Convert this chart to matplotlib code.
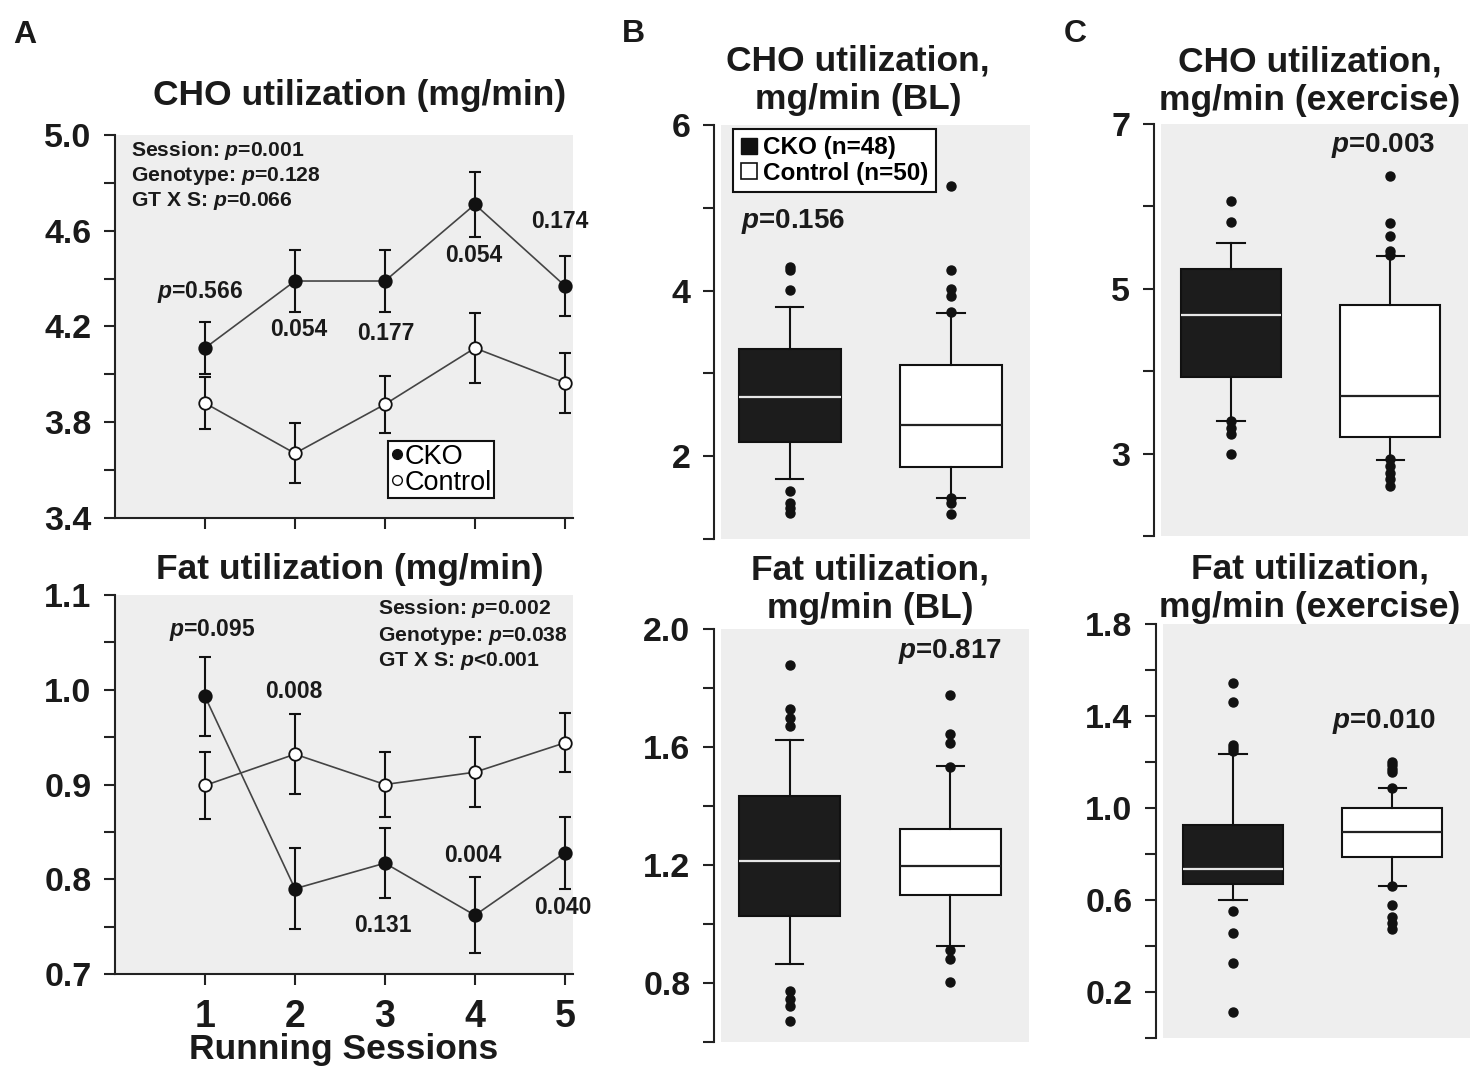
import matplotlib
matplotlib.use("Agg")
import matplotlib.pyplot as plt
from matplotlib.lines import Line2D
from matplotlib.ticker import FormatStrFormatter

plt.rcParams['font.family'] = ['Liberation Sans', 'DejaVu Sans']
plt.rcParams['font.weight'] = 'bold'
plt.rcParams['mathtext.fontset'] = 'custom'
plt.rcParams['mathtext.it'] = 'Liberation Sans:italic:bold'
plt.rcParams['mathtext.rm'] = 'Liberation Sans:bold'
plt.rcParams['mathtext.bf'] = 'Liberation Sans:bold'

# ---------------- data ----------------
sessions = [1, 2, 3, 4, 5]
cho_cko = [4.11, 4.39, 4.39, 4.71, 4.37]
cho_cko_err = [0.11, 0.13, 0.13, 0.135, 0.125]
cho_ctl = [3.88, 3.67, 3.875, 4.11, 3.965]
cho_ctl_err = [0.11, 0.125, 0.12, 0.145, 0.125]
cho_session_p = ["$p$=0.566", "0.054", "0.177", "0.054", "0.174"]
cho_stats = ["Session: $p$=0.001", "Genotype: $p$=0.128", "GT X S: $p$=0.066"]
cho_yticks = [3.4, 3.8, 4.2, 4.6, 5.0]
cho_yminor = [3.6, 4.0, 4.4, 4.8]

fat_cko = [0.993, 0.790, 0.817, 0.762, 0.828]
fat_cko_err = [0.042, 0.043, 0.037, 0.040, 0.038]
fat_ctl = [0.899, 0.932, 0.900, 0.913, 0.944]
fat_ctl_err = [0.035, 0.042, 0.034, 0.037, 0.031]
fat_session_p = ["$p$=0.095", "0.008", "0.131", "0.004", "0.040"]
fat_stats = ["Session: $p$=0.002", "Genotype: $p$=0.038", "GT X S: $p$<0.001"]
fat_yticks = [0.7, 0.8, 0.9, 1.0, 1.1]
fat_yminor = [0.75, 0.85, 0.95, 1.05]

groups = ["CKO (n=48)", "Control (n=50)"]

# box stats: q1, median, q3, whisker low, whisker high, outliers
cho_bl_cko = dict(q1=2.17, med=2.71, q3=3.29, whislo=1.72, whishi=3.80,
                  fliers=[4.29, 4.25, 4.01, 1.58, 1.43, 1.37, 1.32])
cho_bl_ctl = dict(q1=1.875, med=2.38, q3=3.105, whislo=1.50, whishi=3.73,
                  fliers=[5.26, 4.25, 4.02, 3.94, 3.74, 1.50, 1.44, 1.30])
cho_bl_p = "$p$=0.156"
cho_bl_yticks = [2, 4, 6]
cho_bl_yminor = [1, 3, 5]

fat_bl_cko = dict(q1=1.028, med=1.212, q3=1.435, whislo=0.866, whishi=1.623,
                  fliers=[1.877, 1.729, 1.698, 1.670, 0.772, 0.746, 0.721, 0.672])
fat_bl_ctl = dict(q1=1.10, med=1.198, q3=1.322, whislo=0.924, whishi=1.534,
                  fliers=[1.777, 1.644, 1.614, 1.532, 0.911, 0.881, 0.803])
fat_bl_p = "$p$=0.817"
fat_bl_yticks = [0.8, 1.2, 1.6, 2.0]
fat_bl_yminor = [0.6, 1.0, 1.4, 1.8]

cho_ex_cko = dict(q1=3.925, med=4.677, q3=5.238, whislo=3.392, whishi=5.554,
                  fliers=[6.067, 5.808, 3.39, 3.31, 3.24, 2.996])
cho_ex_ctl = dict(q1=3.198, med=3.703, q3=4.798, whislo=2.927, whishi=5.40,
                  fliers=[6.37, 5.798, 5.645, 5.46, 5.41, 2.93, 2.85, 2.77, 2.69, 2.61])
cho_ex_p = "$p$=0.003"
cho_ex_yticks = [3, 5, 7]
cho_ex_yminor = [2, 4, 6]

fat_ex_cko = dict(q1=0.670, med=0.735, q3=0.924, whislo=0.601, whishi=1.233,
                  fliers=[1.545, 1.459, 1.273, 1.262, 1.247, 0.553, 0.458, 0.325, 0.114])
fat_ex_ctl = dict(q1=0.786, med=0.895, q3=1.0, whislo=0.663, whishi=1.087,
                  fliers=[1.201, 1.185, 1.17, 1.157, 1.087, 0.663, 0.580, 0.524, 0.502, 0.476])
fat_ex_p = "$p$=0.010"
fat_ex_yticks = [0.2, 0.6, 1.0, 1.4, 1.8]
fat_ex_yminor = [0.0, 0.4, 0.8, 1.2, 1.6]

# ---------------- figure ----------------
W, H = 1479, 1075
fig = plt.figure(figsize=(W / 100, H / 100), dpi=100)
BG = '#eeeeee'
BOXDARK = '#1c1c1c'
TICKFS = 24.5


def px_axes(x0, y0, x1, y1):
    return fig.add_axes([x0 / W, 1 - y1 / H, (x1 - x0) / W, (y1 - y0) / H])


def ftext(x, y, s, **kw):
    kw.setdefault('ha', 'center')
    kw.setdefault('va', 'center')
    kw.setdefault('fontweight', 'bold')
    kw.setdefault('color', '#1a1a1a')
    return fig.text(x / W, 1 - y / H, s, **kw)


def style_left(ax, ticks, minor, fmt, offset=0):
    ax.set_facecolor(BG)
    for s in ['top', 'right', 'bottom']:
        ax.spines[s].set_visible(False)
    ax.spines['left'].set_linewidth(1.5)
    ax.spines['left'].set_color('#222222')
    if offset:
        ax.spines['left'].set_position(('outward', offset))
    ax.set_yticks(ticks)
    ax.set_yticks(minor, minor=True)
    ax.yaxis.set_major_formatter(FormatStrFormatter(fmt))
    ax.tick_params(axis='y', which='both', direction='out', length=8, width=1.5,
                   colors='#222222', pad=9)
    ax.tick_params(axis='y', which='major', labelsize=TICKFS)
    for lab in ax.get_yticklabels():
        lab.set_fontweight('bold')
        lab.set_color('#1a1a1a')


def line_panel(ax, cko, cko_err, ctl, ctl_err, ylim, ticks, minor):
    ax.errorbar(sessions, ctl, yerr=ctl_err, fmt='none', ecolor='#111111',
                elinewidth=1.5, capsize=4.5, capthick=1.5, zorder=2)
    ax.errorbar(sessions, cko, yerr=cko_err, fmt='none', ecolor='#111111',
                elinewidth=1.5, capsize=4.5, capthick=1.5, zorder=2)
    ax.plot(sessions, ctl, '-', color='#444444', lw=1.2, zorder=3)
    ax.plot(sessions, cko, '-', color='#444444', lw=1.2, zorder=3)
    ax.plot(sessions, ctl, 'o', ms=9, mfc='white', mec='#111111', mew=1.3, zorder=4)
    ax.plot(sessions, cko, 'o', ms=9, mfc='#111111', mec='#111111', mew=1.3, zorder=4)
    ax.set_xlim(0, 5.09)
    ax.set_ylim(*ylim)
    style_left(ax, ticks, minor, '%.1f')
    ax.spines['bottom'].set_visible(True)
    ax.spines['bottom'].set_linewidth(1.5)
    ax.spines['bottom'].set_color('#222222')
    ax.set_xticks(sessions)
    ax.tick_params(axis='x', direction='out', length=8, width=1.5, colors='#222222', pad=10)


# ---- Panel A top ----
axA1 = px_axes(115, 135, 573, 518)
line_panel(axA1, cho_cko, cho_cko_err, cho_ctl, cho_ctl_err, (3.4, 5.0), cho_yticks, cho_yminor)
axA1.set_xticklabels([])

# ---- Panel A bottom ----
axA2 = px_axes(115, 595, 573, 974)
line_panel(axA2, fat_cko, fat_cko_err, fat_ctl, fat_ctl_err, (0.7, 1.1), fat_yticks, fat_yminor)
axA2.set_xticklabels([str(s) for s in sessions], fontsize=27, fontweight='bold', color='#1a1a1a')
axA2.tick_params(axis='x', pad=10)


def box_panel(ax, cko, ctl, ylim, ticks, minor, fmt, xlim):
    stats = []
    for d, lab in zip([cko, ctl], groups):
        s = dict(d)
        s['label'] = lab
        stats.append(s)
    common = dict(widths=0.63, capwidths=0.17, showfliers=True, patch_artist=True,
                  whiskerprops=dict(color='#111111', linewidth=1.5),
                  capprops=dict(color='#111111', linewidth=1.5),
                  flierprops=dict(marker='o', markersize=6.5, markerfacecolor='#111111',
                                  markeredgecolor='#111111'))
    ax.bxp([stats[0]], positions=[1], **common,
           boxprops=dict(facecolor=BOXDARK, edgecolor='#111111', linewidth=1.5),
           medianprops=dict(color='#e6e6e6', linewidth=1.6))
    ax.bxp([stats[1]], positions=[2], **common,
           boxprops=dict(facecolor='white', edgecolor='#111111', linewidth=1.5),
           medianprops=dict(color='#222222', linewidth=1.6))
    ax.set_xlim(*xlim)
    ax.set_ylim(*ylim)
    ax.set_xticks([])
    style_left(ax, ticks, minor, fmt, offset=5)


xlimB = (0.574, 2.488)
xlimC = (0.56, 2.49)

axB1 = px_axes(721, 125, 1030, 539)
box_panel(axB1, cho_bl_cko, cho_bl_ctl, (1, 6), cho_bl_yticks, cho_bl_yminor, '%d', xlimB)

axB2 = px_axes(721, 629, 1029, 1042)
box_panel(axB2, fat_bl_cko, fat_bl_ctl, (0.6, 2.0), fat_bl_yticks, fat_bl_yminor, '%.1f', xlimB)

axC1 = px_axes(1161, 124, 1468, 536)
box_panel(axC1, cho_ex_cko, cho_ex_ctl, (2, 7), cho_ex_yticks, cho_ex_yminor, '%d', xlimC)

axC2 = px_axes(1163, 624, 1470, 1038)
box_panel(axC2, fat_ex_cko, fat_ex_ctl, (0.0, 1.8), fat_ex_yticks, fat_ex_yminor, '%.1f', xlimC)

# ---------------- texts ----------------
ftext(25, 35, "A", fontsize=23)
ftext(633, 34, "B", fontsize=23)
ftext(1075, 34, "C", fontsize=23)

TFS = 25.5
ftext(360, 95, "CHO utilization (mg/min)", fontsize=TFS)
ftext(350, 569, "Fat utilization (mg/min)", fontsize=TFS)
ftext(858, 80, "CHO utilization,\nmg/min (BL)", fontsize=TFS, linespacing=1.2)
ftext(870, 589, "Fat utilization,\nmg/min (BL)", fontsize=TFS, linespacing=1.2)
ftext(1310, 81, "CHO utilization,\nmg/min (exercise)", fontsize=TFS, linespacing=1.2)
ftext(1310, 588, "Fat utilization,\nmg/min (exercise)", fontsize=TFS, linespacing=1.2)

for s, y in zip(cho_stats, [150, 176, 201]):
    ftext(131, y, s, fontsize=15.2, ha='left')
for s, y in zip(fat_stats, [609, 636, 661]):
    ftext(378, y, s, fontsize=15.2, ha='left')

cho_p_pos = [(200, 292), (299, 329), (386, 334), (474, 255), (560, 221)]
for s, (x, y) in zip(cho_session_p, cho_p_pos):
    ftext(x, y, s, fontsize=16.5)
fat_p_pos = [(212, 630), (294, 691), (383, 926), (473, 855), (563, 908)]
for s, (x, y) in zip(fat_session_p, fat_p_pos):
    ftext(x, y, s, fontsize=16.5)

PFS = 20
ftext(793, 222, cho_bl_p, fontsize=PFS)
ftext(950, 652, fat_bl_p, fontsize=PFS)
ftext(1383, 146, cho_ex_p, fontsize=PFS)
ftext(1384, 721, fat_ex_p, fontsize=PFS)

ftext(344, 1050, "Running Sessions", fontsize=25.5)

# ---------------- legends ----------------
hA = [Line2D([], [], ls='none', marker='o', ms=7, mfc='#111111', mec='#111111'),
      Line2D([], [], ls='none', marker='o', ms=7, mfc='white', mec='#111111')]
legA = axA1.legend(hA, ["CKO", "Control"], loc='upper left',
                   bbox_to_anchor=(388 / W, 1 - 441 / H), bbox_transform=fig.transFigure,
                   frameon=True, fancybox=False, edgecolor='#111111', framealpha=1,
                   handlelength=0.45, handletextpad=0.05, borderpad=0.1, labelspacing=0.0,
                   borderaxespad=0, prop={'size': 19.5, 'weight': 'normal'})
legA.get_frame().set_linewidth(1.5)

hB = [Line2D([], [], ls='none', marker='s', ms=11, mfc='#111111', mec='#111111'),
      Line2D([], [], ls='none', marker='s', ms=11, mfc='white', mec='#111111', mew=1.2)]
legB = axB1.legend(hB, groups, loc='upper left',
                   bbox_to_anchor=(733 / W, 1 - 129 / H), bbox_transform=fig.transFigure,
                   frameon=True, fancybox=False, edgecolor='#111111', framealpha=1,
                   handlelength=0.7, handletextpad=0.25, borderpad=0.3, labelspacing=0.1,
                   borderaxespad=0, prop={'size': 17.5, 'weight': 'bold'})
legB.get_frame().set_linewidth(1.5)

fig.savefig("out.png", dpi=100, facecolor='white')
